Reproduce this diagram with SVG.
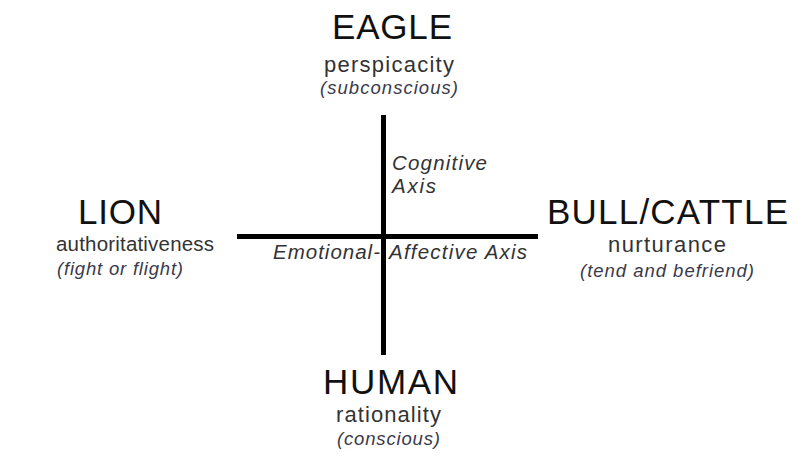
<svg xmlns="http://www.w3.org/2000/svg" width="809" height="472" viewBox="0 0 809 472">
<style>
text{font-family:"Liberation Sans",Arial,sans-serif;text-anchor:start}
.t{font-size:35px;fill:#111}
.s{font-size:22px;fill:#333}
.i{font-size:18.5px;font-style:italic;fill:#3a3a4a}
.a{font-size:20.5px;font-style:italic;fill:#333}
.ax{stroke:#000;stroke-width:5}
</style>
<rect width="809" height="472" fill="#fff"/>
<g id="connectors">
<line class="ax" x1="383.5" y1="115" x2="383.5" y2="355"/>
<line class="ax" x1="237" y1="236.5" x2="538" y2="236.5"/>
</g>
<g id="axis-labels">
<text class="a" x="392" y="170" textLength="95" lengthAdjust="spacing">Cognitive</text>
<text class="a" x="392" y="193" textLength="44" lengthAdjust="spacing">Axis</text>
<text class="a" x="273" y="259" textLength="107" lengthAdjust="spacing">Emotional-</text>
<text class="a" x="389" y="259" textLength="138" lengthAdjust="spacing">Affective Axis</text>
</g>
<g id="eagle">
<text class="t" x="332" y="39" textLength="120" lengthAdjust="spacing">EAGLE</text>
<text class="s" x="324" y="72" textLength="130" lengthAdjust="spacing">perspicacity</text>
<text class="i" x="320" y="94" textLength="138" lengthAdjust="spacing">(subconscious)</text>
</g>
<g id="lion">
<text class="t" x="78" y="224" textLength="84" lengthAdjust="spacing">LION</text>
<text class="s" x="56" y="251" style="font-size:20.5px" textLength="158" lengthAdjust="spacing">authoritativeness</text>
<text class="i" x="57" y="275" textLength="126" lengthAdjust="spacing">(fight or flight)</text>
</g>
<g id="bull">
<text class="t" x="547" y="224" textLength="241" lengthAdjust="spacing">BULL/CATTLE</text>
<text class="s" x="608" y="252" textLength="118" lengthAdjust="spacing">nurturance</text>
<text class="i" x="580" y="277" textLength="174" lengthAdjust="spacing">(tend and befriend)</text>
</g>
<g id="human">
<text class="t" x="323" y="394" textLength="135" lengthAdjust="spacing">HUMAN</text>
<text class="s" x="336" y="422" textLength="105" lengthAdjust="spacing">rationality</text>
<text class="i" x="337" y="445" textLength="103" lengthAdjust="spacing">(conscious)</text>
</g>
</svg>
